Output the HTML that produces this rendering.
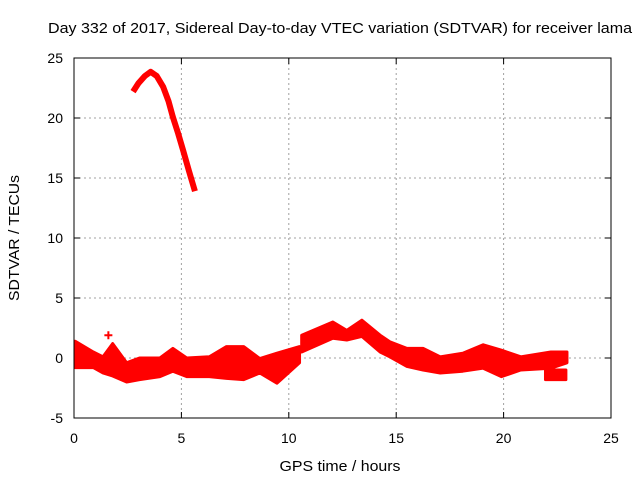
<!DOCTYPE html>
<html><head><meta charset="utf-8"><style>
body{margin:0;background:#fff;}
svg text{font-family:"Liberation Sans",sans-serif;font-size:14px;fill:#000;}
</style></head><body>
<svg id="chart" width="640" height="480" xmlns="http://www.w3.org/2000/svg">
<text x="340" y="33" text-anchor="middle" textLength="584" lengthAdjust="spacingAndGlyphs" style="font-size:15px">Day 332 of 2017, Sidereal Day-to-day VTEC variation (SDTVAR) for receiver lama</text>
<text x="340" y="471" text-anchor="middle" textLength="121" lengthAdjust="spacingAndGlyphs" style="font-size:15px">GPS time / hours</text>
<text transform="translate(19,238) rotate(-90)" text-anchor="middle" textLength="126" lengthAdjust="spacingAndGlyphs" style="font-size:15px">SDTVAR / TECUs</text>
<g id="grid"></g>
<g id="ticks"></g>
<g id="series"></g>
<rect x="74" y="58" width="537" height="360" fill="none" stroke="#000" stroke-width="1"/>
</svg>
<script>
const xTicks=[0,5,10,15,20,25];
const yTicks=[-5,0,5,10,15,20,25];
const curveHours=[2.75,3.0,3.3,3.57,3.85,4.15,4.4,4.6,4.85,5.08,5.35,5.63];
const curveValues=[22.2,22.9,23.5,23.85,23.5,22.6,21.4,20.1,18.7,17.3,15.6,13.9];
const bandHours=[0.05,0.9,1.35,1.8,2.45,3.05,4.0,4.6,5.25,6.3,7.1,7.9,8.65,9.45,10.5];
const bandHigh=[1.4,0.5,0.1,1.2,-0.4,0,0,0.8,0,0.1,0.95,0.95,-0.05,0.4,0.95];
const bandLow=[-0.8,-0.8,-1.25,-1.5,-2.0,-1.8,-1.55,-1.1,-1.55,-1.55,-1.7,-1.8,-1.25,-2.1,-0.4];
const band2Hours=[10.6,12.05,12.7,13.4,14.25,14.7,15.5,16.25,17.05,18.1,19.05,19.9,20.8,22.2,22.95];
const band2High=[1.9,3.0,2.3,3.15,1.9,1.35,0.8,0.8,0.1,0.4,1.1,0.65,0.1,0.5,0.5];
const band2Low=[0.5,1.65,1.5,1.8,0.5,0.1,-0.7,-1.0,-1.25,-1.1,-0.85,-1.55,-1.0,-0.85,-0.4];
const blobHours=[21.95,22.9];
const blobHigh=[-1.0,-1.0];
const blobLow=[-1.8,-1.8];
const markerHours=[1.6];
const markerValues=[1.9];
const X=h=>74+h*(537/25);
const Y=v=>358-v*12;
const NS="http://www.w3.org/2000/svg";
function mk(tag,attrs,parent){const e=document.createElementNS(NS,tag);for(const k in attrs)e.setAttribute(k,attrs[k]);parent.appendChild(e);return e;}
const grid=document.getElementById('grid'),ticks=document.getElementById('ticks'),series=document.getElementById('series');
xTicks.forEach(t=>{
 if(t>0&&t<25){const g=mk('line',{x1:X(t),x2:X(t),y1:58,y2:418,stroke:'#a0a0a0','stroke-dasharray':'2,3'},grid);
 
 }
 const tx=mk('text',{x:X(t),y:443,'text-anchor':'middle'},ticks);tx.textContent=t;
 
 
 mk('line',{x1:X(t),x2:X(t),y1:418,y2:412,stroke:'#000'},ticks);
 mk('line',{x1:X(t),x2:X(t),y1:58,y2:64,stroke:'#000'},ticks);
});
yTicks.forEach(t=>{
 if(t>-5&&t<25){const g=mk('line',{x1:74,x2:611,y1:Y(t),y2:Y(t),stroke:'#a0a0a0','stroke-dasharray':'2,3'},grid);
 
 }
 const tx=mk('text',{x:63,y:Y(t)+5,'text-anchor':'end'},ticks);tx.textContent=t;
 
 
 mk('line',{x1:74,x2:80,y1:Y(t),y2:Y(t),stroke:'#000'},ticks);
 mk('line',{x1:611,x2:605,y1:Y(t),y2:Y(t),stroke:'#000'},ticks);
});
function band(hs,hi,lo,name){
 let pts=hs.map((h,i)=>X(h)+','+Y(hi[i]));
 for(let i=hs.length-1;i>=0;i--)pts.push(X(hs[i])+','+Y(lo[i]));
 const p=mk('polygon',{points:pts.join(' '),fill:'#ff0000',stroke:'#ff0000','stroke-width':3,'stroke-linejoin':'round'},series);
 
 
}
band(bandHours,bandHigh,bandLow,'sdtvar-band-early');
band(band2Hours,band2High,band2Low,'sdtvar-band-late');
band(blobHours,blobHigh,blobLow,'sdtvar-band-outlier');
const c=mk('polyline',{points:curveHours.map((h,i)=>X(h)+','+Y(curveValues[i])).join(' '),fill:'none',stroke:'#ff0000','stroke-width':6,'stroke-linejoin':'round'},series);


markerHours.forEach((h,i)=>{
 const g=mk('path',{d:`M${X(h)-4},${Y(markerValues[i])}h8M${X(h)},${Y(markerValues[i])-4}v8`,stroke:'#ff0000','stroke-width':2},series);
 
 
});
</script>
</body></html>
